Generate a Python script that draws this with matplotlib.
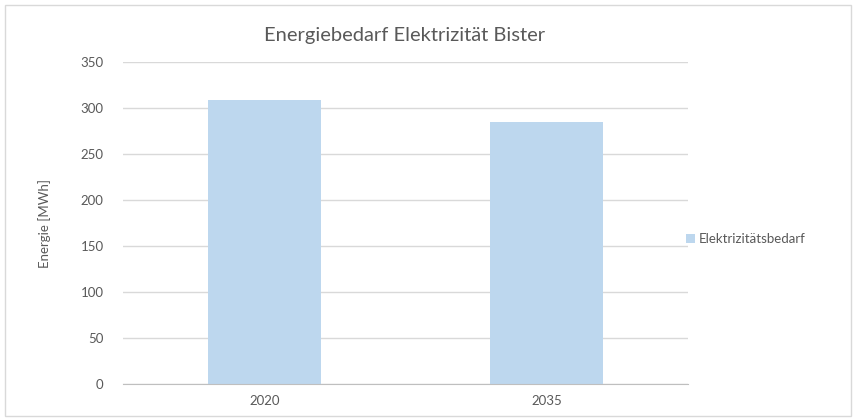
import matplotlib.pyplot as plt
from matplotlib.patches import Rectangle

# data
jahre = ['2020', '2035']
bedarf = [309, 285]

plt.rcParams['font.family'] = ['Lato', 'DejaVu Sans']

fig = plt.figure(figsize=(8.56, 4.19), dpi=100)
# light frame around the whole chart
fig.patches.append(Rectangle((0.006, 0.007), 0.988, 0.982, transform=fig.transFigure,
                             fill=False, edgecolor='#d9d9d9', linewidth=1))

ax = fig.add_axes([0.1437, 0.0835, 0.66, 0.7685])
x = list(range(len(jahre)))
ax.bar(x, bedarf, width=0.4, color='#bdd7ee', label='Elektrizitätsbedarf', zorder=2)

ax.set_xlim(-0.5, len(jahre) - 0.5)
ax.set_ylim(0, 350)
ax.set_yticks(range(0, 351, 50))
ax.set_xticks(x)
ax.set_xticklabels(jahre)
ax.yaxis.grid(True, color='#d9d9d9', linewidth=1, zorder=0)
ax.set_axisbelow(True)
for s in ['top', 'right', 'left']:
    ax.spines[s].set_visible(False)
ax.spines['bottom'].set_color('#bfbfbf')
ax.tick_params(length=0, colors='#595959', labelsize=9.5, pad=8)
ax.tick_params(axis='y', pad=14)
ax.set_ylabel('Energie [MWh]', color='#595959', fontsize=9.5, labelpad=21)

fig.text(0.473, 0.915, 'Energiebedarf Elektrizität Bister', ha='center', va='center',
         fontsize=14.5, color='#595959')

ax.legend(loc='center left', bbox_to_anchor=(0.975, 0.45), frameon=False,
          fontsize=9.5, labelcolor='#595959', handlelength=0.7, handleheight=0.7,
          handletextpad=0.3)

plt.savefig('out.png', dpi=100)
